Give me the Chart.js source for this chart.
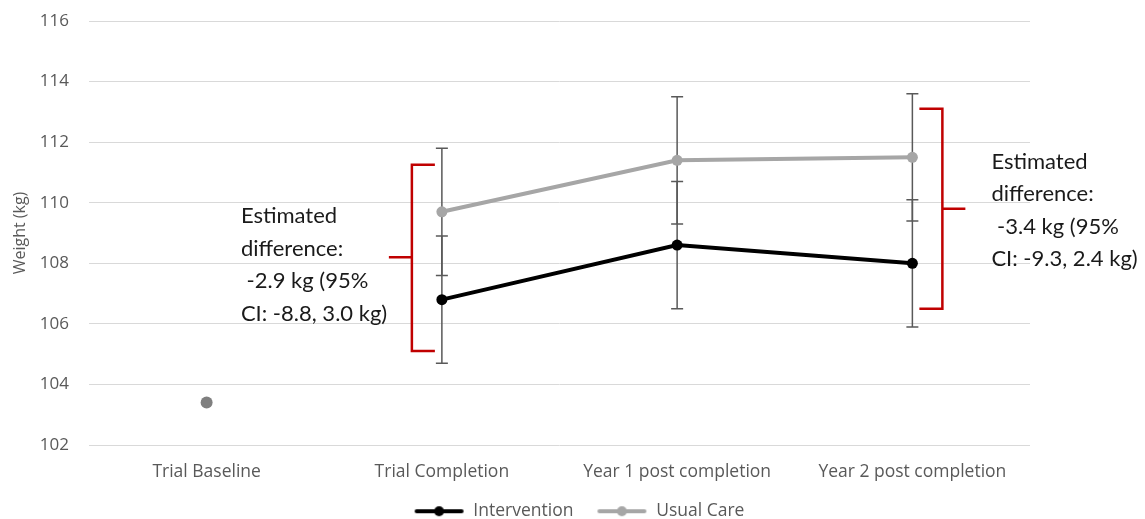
<!DOCTYPE html>
<html>
<head>
<meta charset="utf-8">
<script src="https://cdn.jsdelivr.net/npm/chart.js@4.4.1/dist/chart.umd.min.js"></script>
<style>
    html, body { margin: 0; padding: 0; background: #fff; }
    #wrap { position: relative; width: 1145px; height: 519px; }
</style>
</head>
<body>
<div id="wrap"><canvas id="weightChart"></canvas></div>
<script>
const timepoints = ['Trial Baseline', 'Trial Completion', 'Year 1 post completion', 'Year 2 post completion'];
const baselineWeight = [103.4, null, null, null];
const interventionWeight = [null, 106.8, 108.6, 108.0];
const usualCareWeight = [null, 109.7, 111.4, 111.5];
const interventionLow = [null, 104.7, 106.5, 105.9];
const interventionHigh = [null, 108.9, 110.7, 110.1];
const usualCareLow = [null, 107.6, 109.3, 109.4];
const usualCareHigh = [null, 111.8, 113.5, 113.6];
const yTicks = [102, 104, 106, 108, 110, 112, 114, 116];

// estimated difference brackets
const bracketAt = [1, 3];
const bracketTop = [111.25, 113.1];
const bracketBottom = [105.1, 106.5];
const bracketMid = [108.2, 109.8];
const bracketText = [
    ['Estimated', 'difference:', ' -2.9 kg (95%', 'CI: -8.8, 3.0 kg)'],
    ['Estimated', 'difference:', ' -3.4 kg (95%', 'CI: -9.3, 2.4 kg)']
];

const tickColor = '#595959';
const fontFamily = '"Open Sans", sans-serif';
const padBottom = -11;

function legendMark(color) {
    const c = document.createElement('canvas');
    c.width = 64;
    c.height = 12;
    const g = c.getContext('2d');
    g.strokeStyle = color;
    g.lineWidth = 4;
    g.lineCap = 'round';
    g.beginPath();
    g.moveTo(16, 6);
    g.lineTo(61, 6);
    g.stroke();
    g.fillStyle = color;
    g.beginPath();
    g.arc(38.5, 6, 5, 0, Math.PI * 2);
    g.fill();
    return c;
}
const legendMarks = [legendMark('#000000'), legendMark('#a6a6a6')];

const overlay = {
    id: 'overlay',
    beforeDatasetsDraw(chart) {
        const { ctx, scales: { x, y } } = chart;
        ctx.save();
        ctx.strokeStyle = '#595959';
        ctx.lineWidth = 1.5;
        [[interventionLow, interventionHigh], [usualCareLow, usualCareHigh]].forEach(([lo, hi]) => {
            lo.forEach((v, i) => {
                if (v == null) return;
                const px = x.getPixelForValue(i);
                const y0 = y.getPixelForValue(v);
                const y1 = y.getPixelForValue(hi[i]);
                ctx.beginPath();
                ctx.moveTo(px, y0); ctx.lineTo(px, y1);
                ctx.moveTo(px - 6, y0); ctx.lineTo(px + 6, y0);
                ctx.moveTo(px - 6, y1); ctx.lineTo(px + 6, y1);
                ctx.stroke();
            });
        });
        ctx.restore();
    },
    afterDatasetsDraw(chart) {
        const { ctx, scales: { x, y } } = chart;
        ctx.save();
        bracketAt.forEach((idx, k) => {
            const side = k === 0 ? -1 : 1;
            const px = x.getPixelForValue(idx);
            const vx = px + side * 30;
            const top = y.getPixelForValue(bracketTop[k]);
            const bot = y.getPixelForValue(bracketBottom[k]);
            const mid = y.getPixelForValue(bracketMid[k]);
            ctx.strokeStyle = '#c00000';
            ctx.lineWidth = 2.5;
            ctx.beginPath();
            ctx.moveTo(px + side * 7, top);
            ctx.lineTo(vx, top);
            ctx.lineTo(vx, bot);
            ctx.lineTo(px + side * 7, bot);
            ctx.moveTo(vx, mid);
            ctx.lineTo(px + side * 53, mid);
            ctx.stroke();

            ctx.fillStyle = '#1a1a1a';
            ctx.font = '22px Lato, sans-serif';
            ctx.textBaseline = 'middle';
            ctx.textAlign = 'left';
            const tx = k === 0 ? px - 201 : px + 79;
            const ty = mid - 49 + (k === 0 ? 8 : 2);
            bracketText[k].forEach((line, j) => ctx.fillText(line, tx, ty + j * 32.5));
        });
        ctx.restore();
    }
};

new Chart(document.getElementById('weightChart'), {
    type: 'line',
    data: {
        labels: timepoints,
        datasets: [
            {
                label: 'Intervention',
                data: interventionWeight,
                borderColor: '#000000',
                backgroundColor: '#000000',
                borderWidth: 4,
                pointRadius: 5.5,
                pointBackgroundColor: '#000000',
                pointBorderWidth: 0
            },
            {
                label: 'Usual Care',
                data: usualCareWeight,
                borderColor: '#a6a6a6',
                backgroundColor: '#a6a6a6',
                borderWidth: 4,
                pointRadius: 5.5,
                pointBackgroundColor: '#a6a6a6',
                pointBorderWidth: 0
            },
            {
                label: 'Baseline',
                data: baselineWeight,
                showLine: false,
                borderColor: '#7f7f7f',
                pointRadius: 6,
                pointBackgroundColor: '#7f7f7f',
                pointBorderWidth: 0
            }
        ]
    },
    options: {
        responsive: true,
        maintainAspectRatio: false,
        animation: false,
        events: [],
        layout: { padding: { top: 21, left: 0, right: 0, bottom: padBottom } },
        scales: {
            x: {
                offset: true,
                grid: { display: false },
                border: { display: false },
                ticks: { color: tickColor, font: { family: fontFamily, size: 17.5 }, padding: 9, maxRotation: 0, autoSkip: false },
                afterFit(s) { s.height = s.chart.height - padBottom - 445 - s.chart.legend.height; }
            },
            y: {
                min: 102,
                max: 116,
                afterBuildTicks(s) { s.ticks = yTicks.map(v => ({ value: v })); },
                grid: { color: '#d9d9d9', drawTicks: false },
                border: { display: false },
                ticks: { color: tickColor, font: { family: fontFamily, size: 17 }, padding: 20 },
                title: { display: true, text: 'Weight (kg)', color: tickColor, font: { family: fontFamily, size: 16 }, padding: { top: 11 } },
                afterFit(s) {
                    s.width = 89;
                    s.paddingTop = 0;
                    s.paddingBottom = 0;
                }
            },
            yRight: {
                position: 'right',
                grid: { display: false },
                border: { display: false },
                ticks: { display: false },
                afterFit(s) { s.width = 115; }
            }
        },
        plugins: {
            tooltip: { enabled: false },
            legend: {
                position: 'bottom',
                labels: {
                    usePointStyle: true,
                    pointStyleWidth: 64,
                    color: tickColor,
                    font: { family: fontFamily, size: 17.5 },
                    padding: 10,
                    generateLabels: chart => Chart.defaults.plugins.legend.labels.generateLabels(chart)
                        .filter(l => l.datasetIndex < 2)
                        .map(l => Object.assign(l, { pointStyle: legendMarks[l.datasetIndex] }))
                }
            }
        }
    },
    plugins: [overlay]
});
</script>
</body>
</html>
